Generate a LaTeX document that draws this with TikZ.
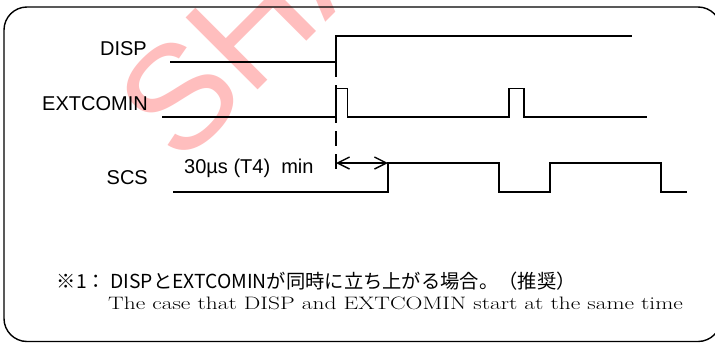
\documentclass[tikz,border=0pt]{standalone}
\usepackage{fontspec}
\newfontfamily\sigfont{Liberation Sans}
\newfontfamily\cjk{Noto Sans CJK JP}
\definecolor{WaterPink}{RGB}{255, 190, 190}
\usepackage{tikz}
\usetikzlibrary{arrows.meta, positioning, calc}

\begin{document}
\begin{tikzpicture}[
            x=1pt, y=-1pt,
            sig/.style={line width=1.6pt},
            lbl/.style={font=\sigfont\fontsize{20}{24}\selectfont, inner sep=0pt, anchor=base east},
        ]
            \useasboundingbox (0,0) rectangle (715,343);
            \clip (0,0) rectangle (715,343);
            % watermark
            \node[font=\sigfont\fontsize{148}{148}\selectfont, text=WaterPink, rotate=45, anchor=base west, inner sep=0pt] (mark) at (180,168) {SHARP};
            % frame
            \draw[line width=1.4pt, rounded corners=23pt] (4,7) rectangle (721,341.5);
            % signal names
            \node[lbl] (disp) at (147,55) {DISP};
            \node[lbl] (ext) at (148,110) {EXTCOMIN};
            \node[lbl] (scs) at (148,184) {SCS};
            % waveforms
            \draw[sig] (170,62) -- (336,62) -- (336,36) -- (632,36);
            \draw[sig] (162,117) -- (336,117) -- (336,88.5) -- (347.5,88.5) -- (347.5,117) -- (509,117) -- (509,88.5) -- (524,88.5) -- (524,117) -- (647,117);
            \draw[sig] (173,192) -- (388,192) -- (388,163) -- (499,163) -- (499,192) -- (550,192) -- (550,163) -- (661,163) -- (661,192) -- (687,192);
            % timing T4
            \coordinate (tzero) at (336,163);
            \coordinate (tone) at (388,163);
            \draw[sig, dash pattern=on 15pt off 8pt] (336,62) -- (336,172);
            \draw[line width=1.4pt, {Straight Barb[length=12pt,width=12pt]}-{Straight Barb[length=12pt,width=12pt]}] (tzero) -- (tone);
            \node[font=\sigfont\fontsize{20}{24}\selectfont, inner sep=0pt, anchor=base west] (tfour) at (184,173) {30µs (T4)~~min};
            % note
            \node[font=\cjk\fontsize{19.3}{22}\selectfont, inner sep=0pt, anchor=base west] (notejp) at (56.7,288.3) {※1：\ DISPとEXTCOMINが同時に立ち上がる場合。（推奨）};
            \node[font=\fontsize{18}{22}\selectfont, inner sep=0pt, anchor=base west] (noteen) at (108,309.3) {\scalebox{1.3}[1]{The case that DISP and EXTCOMIN start at the same time}};
        \end{tikzpicture}
\end{document}
